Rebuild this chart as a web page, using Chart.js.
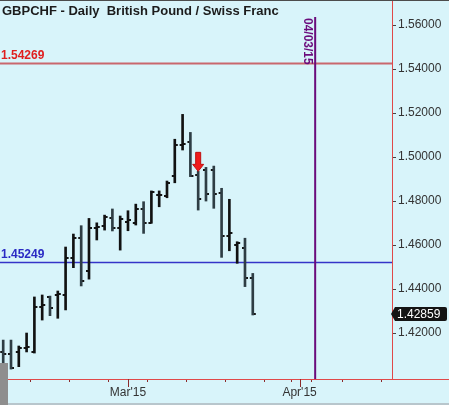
<!DOCTYPE html>
<html>
<head>
<meta charset="utf-8">
<script src="https://cdn.jsdelivr.net/npm/chart.js@4.4.1/dist/chart.umd.min.js"></script>
<style>
  html, body { margin: 0; padding: 0; background: #d8f4fa; }
  canvas { display: block; }
</style>
</head>
<body>
<canvas id="chart" width="449" height="405"></canvas>
<script>
// GBPCHF daily OHLC bars
// day index: 0 = Mon 2 Mar 2015 (trading days)
let days = [-16, -15, -14, -13, -12, -11, -10, -9, -8, -7, -6, -5, -4, -3, -2, -1,
  0, 1, 2, 3, 4, 5, 6, 7, 8, 9, 10, 11, 12, 13, 14, 15, 16];
let opens = [1.4115, 1.4105, 1.4115, 1.4130, 1.4115, 1.4320, 1.4365, 1.4373, 1.4373, 1.4542, 1.4630,
  1.4482, 1.4676, 1.4686, 1.4721, 1.4676, 1.4706, 1.4702, 1.4762, 1.4702, 1.4827, 1.4824,
  1.4914, 1.5055, 1.5067, 1.4920, 1.4941, 1.4941, 1.4835, 1.4642, 1.4600, 1.4585, 1.4449];
let highs = [1.4168, 1.4168, 1.4141, 1.4200, 1.4364, 1.4373, 1.4368, 1.4391, 1.4591, 1.4650, 1.4688,
  1.4721, 1.4701, 1.4736, 1.4764, 1.4732, 1.4756, 1.4786, 1.4797, 1.4846, 1.4846, 1.4891,
  1.5081, 1.5194, 1.5112, 1.4935, 1.4953, 1.4959, 1.4858, 1.4808, 1.4615, 1.4631, 1.4471];
let lows = [1.4023, 1.4036, 1.4047, 1.4114, 1.4109, 1.4259, 1.4279, 1.4267, 1.4305, 1.4497, 1.4414,
  1.4445, 1.4623, 1.4668, 1.4664, 1.4577, 1.4665, 1.4691, 1.4653, 1.4699, 1.4774, 1.4815,
  1.4883, 1.5032, 1.4911, 1.4759, 1.4800, 1.4767, 1.4544, 1.4574, 1.4517, 1.4411, 1.4282];
let closes = [1.4105, 1.4042, 1.4132, 1.4136, 1.4320, 1.4327, 1.4315, 1.4377, 1.4542, 1.4632, 1.4436,
  1.4676, 1.4683, 1.4729, 1.4676, 1.4717, 1.4714, 1.4762, 1.4702, 1.4840, 1.4827, 1.4881,
  1.5055, 1.5058, 1.4915, 1.4809, 1.4832, 1.4832, 1.4642, 1.4656, 1.4608, 1.4449, 1.42859];

// axis ticks
let yTickValues = [1.42, 1.44, 1.46, 1.48, 1.50, 1.52, 1.54, 1.56];
let xTickValues = [-15, -10, -5, 0, 5, 10, 15, 20, 22, 25, 30];
let xLabelValues = [0, 22];
let xLabelTexts = ["Mar'15", "Apr'15"];

// horizontal levels
let levelValues = [1.54269, 1.45249];
let levelColors = ["#c9676d", "#3434c8"];
let levelTextColors = ["#e01e1e", "#2b2bc4"];

// vertical date marker and signal arrow
let markerDay = 24;
let markerText = "04/03/15";
let arrowDay = 9;

let titleText = "GBPCHF - Daily  British Pound / Swiss Franc";
let lastPrice = closes[closes.length - 1];

// small tick images for open (left) and close (right)
function makeTick(side) {
  let c = document.createElement("canvas");
  c.width = 8;
  c.height = 2;
  let g = c.getContext("2d");
  g.fillStyle = "#151515";
  if (side === "left") g.fillRect(1, 0, 3, 2);
  else g.fillRect(4, 0, 3, 2);
  return c;
}
let openTick = makeTick("left");
let closeTick = makeTick("right");

let barColors = opens.map((o, k) => (closes[k] < o ? "#2e3d44" : "#111111"));

let extras = {
  id: "extras",
  beforeDraw(chart) {
    let ctx = chart.ctx;
    ctx.save();
    ctx.fillStyle = "#d8f4fa";
    ctx.fillRect(0, 0, chart.width, chart.height);
    ctx.restore();
  },
  beforeDatasetsDraw(chart) {
    let ctx = chart.ctx;
    let area = chart.chartArea;
    let y = chart.scales.y;
    let x = chart.scales.x;
    ctx.save();
    // level lines
    levelValues.forEach((v, k) => {
      let py = Math.round(y.getPixelForValue(v)) + 0.5;
      ctx.strokeStyle = levelColors[k];
      ctx.lineWidth = k === 0 ? 2 : 1.5;
      ctx.beginPath();
      ctx.moveTo(area.left, py);
      ctx.lineTo(area.right, py);
      ctx.stroke();
    });
    // date marker
    let mx = x.getPixelForValue(markerDay);
    ctx.strokeStyle = "#6b0c7c";
    ctx.lineWidth = 2;
    ctx.beginPath();
    ctx.moveTo(mx, 17);
    ctx.lineTo(mx, area.bottom);
    ctx.stroke();
    ctx.restore();
  },
  afterDatasetsDraw(chart) {
    let ctx = chart.ctx;
    let y = chart.scales.y;
    let x = chart.scales.x;
    ctx.save();
    // level labels
    ctx.font = "bold 12px Arial, 'Liberation Sans'";
    ctx.textBaseline = "alphabetic";
    ctx.textAlign = "left";
    levelValues.forEach((v, k) => {
      let py = y.getPixelForValue(v);
      ctx.fillStyle = levelTextColors[k];
      ctx.fillText(v.toFixed(5), 1, py - 4);
    });
    // marker label, rotated
    let mx = x.getPixelForValue(markerDay);
    ctx.save();
    ctx.translate(mx - 8, 18);
    ctx.rotate(Math.PI / 2);
    ctx.fillStyle = "#6b0c7c";
    ctx.font = "bold 12px Arial, 'Liberation Sans'";
    ctx.textBaseline = "middle";
    ctx.fillText(markerText, 0, 0);
    ctx.restore();
    // signal arrow
    let k = days.indexOf(arrowDay);
    let ax = x.getPixelForValue(arrowDay);
    let tip = y.getPixelForValue(highs[k]);
    ctx.beginPath();
    ctx.moveTo(ax - 2.5, tip - 19);
    ctx.lineTo(ax + 2.5, tip - 19);
    ctx.lineTo(ax + 2.5, tip - 7);
    ctx.lineTo(ax + 5.5, tip - 7);
    ctx.lineTo(ax, tip);
    ctx.lineTo(ax - 5.5, tip - 7);
    ctx.lineTo(ax - 2.5, tip - 7);
    ctx.closePath();
    ctx.fillStyle = "#f01c1c";
    ctx.fill();
    ctx.strokeStyle = "#c01010";
    ctx.lineWidth = 1;
    ctx.stroke();
    ctx.restore();
  },
  afterDraw(chart) {
    let ctx = chart.ctx;
    let area = chart.chartArea;
    let x = chart.scales.x;
    let y = chart.scales.y;
    ctx.save();
    // x axis line across full width
    ctx.strokeStyle = "#e04848";
    ctx.lineWidth = 1;
    ctx.beginPath();
    ctx.moveTo(0, area.bottom + 0.5);
    ctx.lineTo(chart.width, area.bottom + 0.5);
    ctx.stroke();
    // longer ticks at month starts
    ctx.strokeStyle = "#8b2a2a";
    xLabelValues.forEach((v) => {
      let px = Math.round(x.getPixelForValue(v)) + 0.5;
      ctx.beginPath();
      ctx.moveTo(px, area.bottom);
      ctx.lineTo(px, area.bottom + 8);
      ctx.stroke();
    });
    // last price box
    let py = Math.round(y.getPixelForValue(lastPrice));
    ctx.fillStyle = "#141414";
    ctx.beginPath();
    ctx.moveTo(area.right - 1, py);
    ctx.lineTo(area.right + 3, py - 7);
    ctx.lineTo(chart.width - 4, py - 7);
    ctx.quadraticCurveTo(chart.width - 2, py - 7, chart.width - 2, py - 5);
    ctx.lineTo(chart.width - 2, py + 5);
    ctx.quadraticCurveTo(chart.width - 2, py + 7, chart.width - 4, py + 7);
    ctx.lineTo(area.right + 3, py + 7);
    ctx.closePath();
    ctx.fill();
    ctx.fillStyle = "#ffffff";
    ctx.font = "12px Arial, 'Liberation Sans'";
    ctx.textBaseline = "middle";
    ctx.textAlign = "left";
    ctx.fillText(lastPrice.toFixed(5), area.right + 5, py + 1);
    // title
    ctx.fillStyle = "#1c1c1c";
    ctx.font = "bold 13px Arial, 'Liberation Sans'";
    ctx.textBaseline = "alphabetic";
    ctx.fillText(titleText, 2, 15);
    // frame bits
    ctx.fillStyle = "#4c4c4c";
    ctx.fillRect(0, 0, chart.width, 1);
    ctx.fillStyle = "#b8c6cc";
    ctx.fillRect(0, chart.height - 2, chart.width, 2);
    ctx.fillStyle = "#8e8e8e";
    ctx.fillRect(0, 363, 8, chart.height - 363);
    ctx.restore();
  },
};

function noPad(s) {
  s.paddingTop = 0;
  s.paddingBottom = 0;
  s.paddingLeft = 0;
  s.paddingRight = 0;
}

let ctx = document.getElementById("chart").getContext("2d");
let chart = new Chart(ctx, {
  type: "bar",
  data: {
    datasets: [
      {
        type: "bar",
        data: days.map((d, k) => ({ x: d, y: [lows[k], highs[k]] })),
        backgroundColor: barColors,
        borderWidth: 0,
        barThickness: 2,
      },
      {
        type: "line",
        data: days.map((d, k) => ({ x: d, y: opens[k] })),
        showLine: false,
        pointStyle: openTick,
        pointRadius: 3,
      },
      {
        type: "line",
        data: days.map((d, k) => ({ x: d, y: closes[k] })),
        showLine: false,
        pointStyle: closeTick,
        pointRadius: 3,
      },
    ],
  },
  options: {
    responsive: false,
    animation: false,
    devicePixelRatio: 1,
    events: [],
    layout: { padding: 0, autoPadding: false },
    plugins: {
      legend: { display: false },
      tooltip: { enabled: false },
    },
    scales: {
      x: {
        type: "linear",
        position: "bottom",
        min: -16.41,
        max: 33.85,
        offset: false,
        border: { display: false },
        grid: { drawOnChartArea: false, drawTicks: true, tickLength: 3, tickColor: "#8b2a2a" },
        afterBuildTicks: (s) => {
          s.ticks = xTickValues.map((v) => ({ value: v }));
        },
        ticks: {
          autoSkip: false,
          maxRotation: 0,
          padding: 3,
          color: "#333333",
          font: { family: "Arial, 'Liberation Sans'", size: 12 },
          callback: (v) => {
            let i = xLabelValues.indexOf(v);
            return i >= 0 ? xLabelTexts[i] : "";
          },
        },
        afterFit: (s) => {
          s.height = 26;
          noPad(s);
        },
      },
      y: {
        type: "linear",
        position: "right",
        min: 1.3991,
        max: 1.5714,
        border: { display: true, color: "#e04848", width: 1 },
        grid: { drawOnChartArea: false, drawTicks: true, tickLength: 4, tickColor: "#444444" },
        afterBuildTicks: (s) => {
          s.ticks = yTickValues.map((v) => ({ value: v }));
        },
        ticks: {
          padding: 2,
          color: "#333333",
          font: { family: "Arial, 'Liberation Sans'", size: 12 },
          callback: (v) => v.toFixed(5),
        },
        afterFit: (s) => {
          s.width = 57;
          noPad(s);
        },
      },
    },
  },
  plugins: [extras],
});
</script>
</body>
</html>
